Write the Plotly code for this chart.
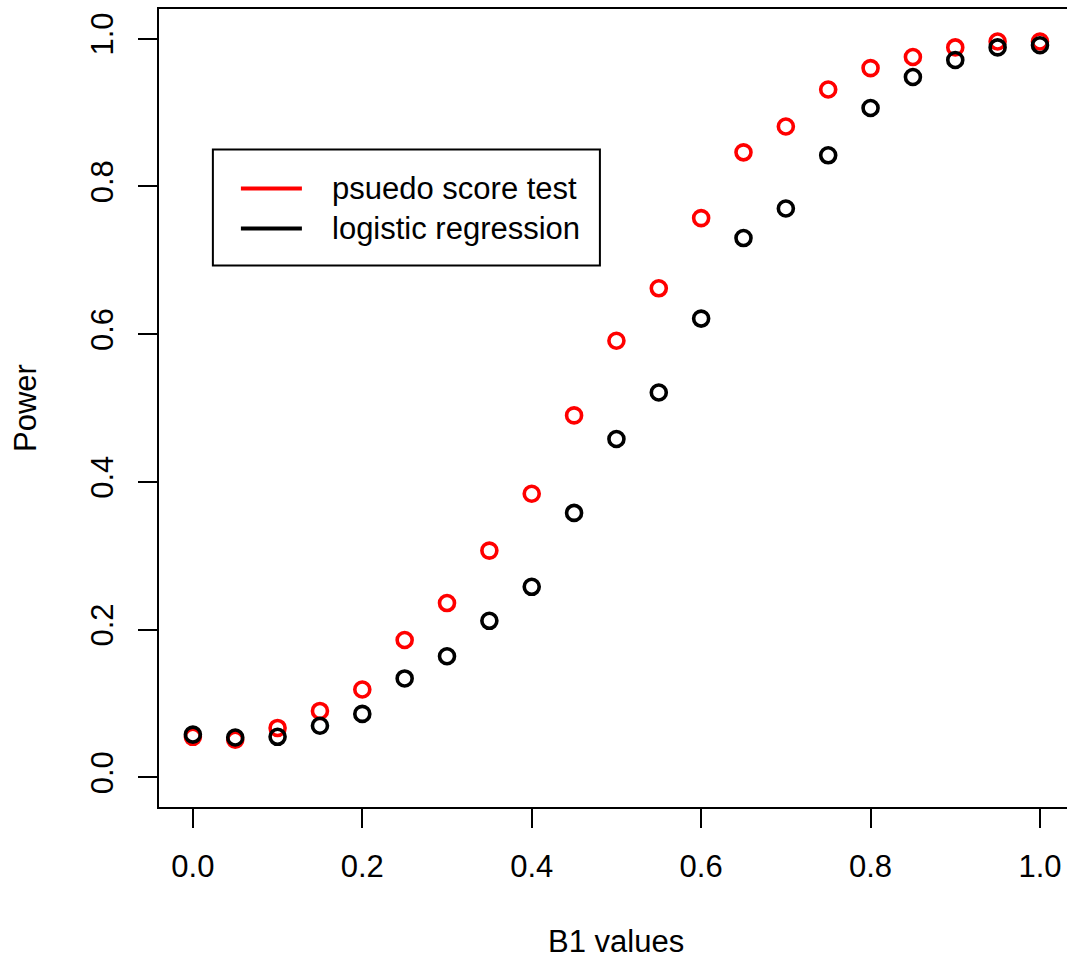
import plotly.graph_objects as go

# ---- data ----
b1_values = [0.00, 0.05, 0.10, 0.15, 0.20, 0.25, 0.30, 0.35, 0.40, 0.45, 0.50,
             0.55, 0.60, 0.65, 0.70, 0.75, 0.80, 0.85, 0.90, 0.95, 1.00]
pseudo_score_power = [0.055, 0.051, 0.067, 0.090, 0.119, 0.186, 0.236, 0.307, 0.384, 0.490, 0.591,
                      0.662, 0.757, 0.846, 0.881, 0.931, 0.960, 0.975, 0.988, 0.996, 0.996]
logistic_power = [0.058, 0.054, 0.055, 0.070, 0.086, 0.134, 0.164, 0.212, 0.258, 0.358, 0.458,
                  0.521, 0.621, 0.730, 0.770, 0.842, 0.906, 0.948, 0.971, 0.988, 0.991]
series_names = ["psuedo score test", "logistic regression"]
series_colors = ["#FF0000", "#000000"]
tick_vals = [0.0, 0.2, 0.4, 0.6, 0.8, 1.0]
tick_text = ["0.0", "0.2", "0.4", "0.6", "0.8", "1.0"]

FONT = "Liberation Sans, Arial, Helvetica, sans-serif"
FS = 31

fig = go.Figure()
for name, vals, col in zip(series_names, [pseudo_score_power, logistic_power], series_colors):
    fig.add_trace(go.Scatter(
        x=b1_values, y=vals, mode="markers", name=name,
        marker=dict(symbol="circle-open", size=15, color=col, line=dict(width=3.6, color=col)),
        showlegend=False, cliponaxis=False,
    ))

# ---- manual R-style legend (data coordinates) ----
leg_x0, leg_x1, leg_y0, leg_y1 = 0.0236, 0.4805, 0.693, 0.850
line_x0, line_x1, text_x = 0.0567, 0.1287, 0.1617
row_y = [0.797, 0.743]
shapes = [dict(type="rect", xref="x", yref="y", x0=leg_x0, x1=leg_x1, y0=leg_y0, y1=leg_y1,
               line=dict(color="black", width=2), fillcolor="white", layer="below")]
annotations = []
for name, col, yy in zip(series_names, series_colors, row_y):
    shapes.append(dict(type="line", xref="x", yref="y", x0=line_x0, x1=line_x1, y0=yy, y1=yy,
                       line=dict(color=col, width=4)))
    annotations.append(dict(x=text_x, y=yy, xref="x", yref="y", text=name, showarrow=False,
                            xanchor="left", yanchor="middle",
                            font=dict(family=FONT, size=FS, color="black")))

# axis titles
annotations.append(dict(x=0.5, y=-0.169, xref="x", yref="paper", text="B1 values", showarrow=False,
                        xanchor="center", yanchor="middle", font=dict(family=FONT, size=FS, color="black")))
annotations.append(dict(x=-0.1476, y=0.5, xref="paper", yref="y", text="Power", showarrow=False,
                        textangle=-90, xanchor="center", yanchor="middle",
                        font=dict(family=FONT, size=FS, color="black")))

fig.update_layout(
    width=1067, height=962,
    margin=dict(l=159, r=0, t=9, b=155, autoexpand=False),
    paper_bgcolor="white", plot_bgcolor="white",
    font=dict(family=FONT, size=FS, color="black"),
    shapes=shapes, annotations=annotations,
    xaxis=dict(range=[-0.04, 1.0319], tickvals=tick_vals, ticktext=tick_text, automargin=False,
               showgrid=False, zeroline=False, showline=True, linecolor="black", linewidth=2,
               mirror=True, ticks="outside", ticklen=19, tickwidth=2, tickcolor="black",
               tickfont=dict(family=FONT, size=FS, color="black"), ticklabelstandoff=12),
    yaxis=dict(range=[-0.04, 1.04], tickvals=tick_vals, ticktext=tick_text, automargin=False,
               showgrid=False, zeroline=False, showline=True, linecolor="black", linewidth=2,
               ticks="outside", ticklen=19, tickwidth=2, tickcolor="black", tickangle=-90,
               tickfont=dict(family=FONT, size=FS, color="black"), ticklabelstandoff=13),
)

# remove the page's default body margin so the figure fills the window exactly
fig.write_html("out.html",
               config={"displayModeBar": False},
               post_script="document.body.style.margin='0px';document.body.style.overflow='hidden';")
